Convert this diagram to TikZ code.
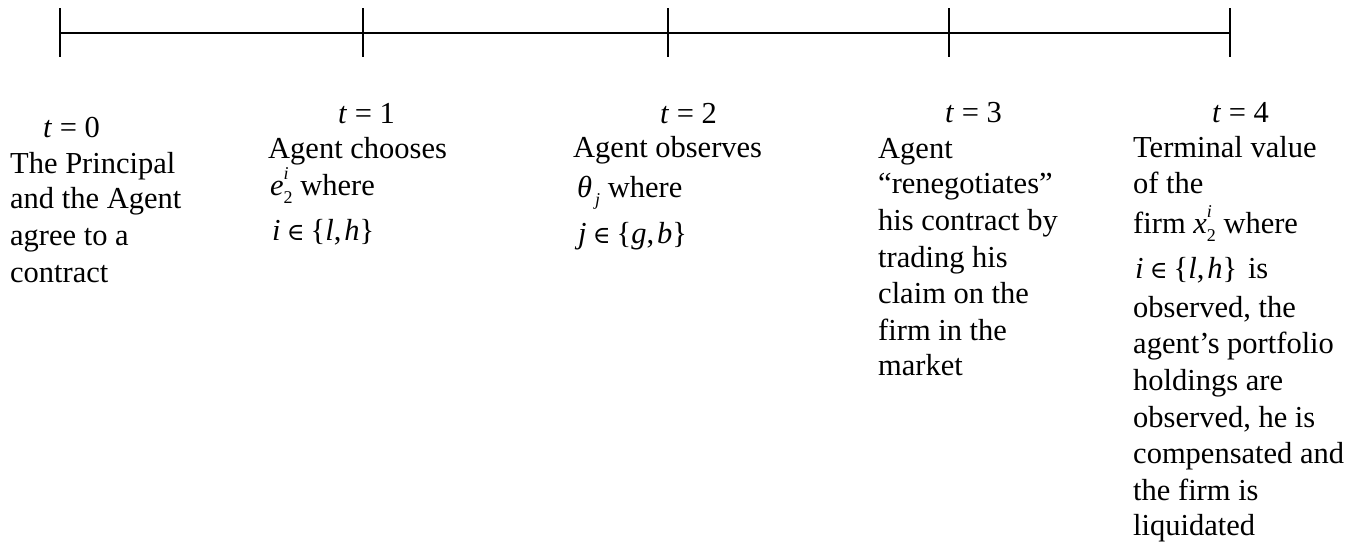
\documentclass[tikz,border=0pt]{standalone}
\usepackage{fontspec}
\setmainfont{Liberation Serif}
\newfontfamily\symfont{DejaVu Serif}
\newcommand{\SupSub}[3]{#1\makebox[0pt][l]{\raisebox{0.5em}{\fontsize{18}{18}\selectfont #2}}\raisebox{-0.28em}{\fontsize{18}{18}\selectfont #3}}
\newcommand{\SubOnly}[2]{#1\raisebox{-0.28em}{\fontsize{18}{18}\selectfont #2}}
\newcommand{\InSet}[3]{\textit{#1}\hspace{0.2em}{\symfont\fontsize{24}{24}\selectfont ∈}\hspace{0.2em}\{\textit{#2},\hspace{0.1em}\textit{#3}\}}
\begin{document}
\begin{tikzpicture}[x=1pt,y=-1pt,
  txt/.style={anchor=base west, inner sep=0pt, font=\fontsize{30.5}{36}\selectfont},
  axis/.style={line width=2pt},
  tickmark/.style={line width=2.6pt}]
\useasboundingbox (0,0) rectangle (1358,542);
% timeline
\coordinate (p0) at (60,33);
\coordinate (p1) at (363,33);
\coordinate (p2) at (668,33);
\coordinate (p3) at (949,33);
\coordinate (p4) at (1230,33);
\draw[axis] (p0) -- (p4);
\foreach \i in {0,...,4}{
  \draw[tickmark] ([yshift=25pt]p\i) -- ([yshift=-24pt]p\i);
}
% t = 0
\node[txt] (t0) at (43,137) {\textit{t} = 0};
\node[txt] (a1) at (10,173) {The Principal};
\node[txt] (a2) at (10,208) {and the Agent};
\node[txt] (a3) at (10,245) {agree to a};
\node[txt] (a4) at (10,282) {contract};
% t = 1
\node[txt] (t1) at (338,123) {\textit{t} = 1};
\node[txt] (b1) at (268,158) {Agent chooses};
\node[txt] (b2) at (270,195) {\SupSub{\textit{e}}{\textit{i}}{2} where};
\node[txt] (b3) at (272,240) {\InSet{i}{l}{h}};
% t = 2
\node[txt] (t2) at (660,123) {\textit{t} = 2};
\node[txt] (c1) at (573,157) {Agent observes};
\node[txt] (c2) at (577,197) {\SubOnly{\textit{θ}}{\,\textit{j}} where};
\node[txt] (c3) at (578,243) {\InSet{j}{g}{b}};
% t = 3
\node[txt] (t3) at (945,122) {\textit{t} = 3};
\node[txt] (d1) at (878,158) {Agent};
\node[txt] (d2) at (878,193) {“renegotiates”};
\node[txt] (d3) at (878,230) {his contract by};
\node[txt] (d4) at (878,267) {trading his};
\node[txt] (d5) at (878,303) {claim on the};
\node[txt] (d6) at (878,340) {firm in the};
\node[txt] (d7) at (878,375) {market};
% t = 4
\node[txt] (t4) at (1212,122) {\textit{t} = 4};
\node[txt] (e1) at (1133,157) {Terminal value};
\node[txt] (e2) at (1133,193) {of the};
\node[txt] (e3) at (1133,233) {firm \SupSub{\textit{x}}{\textit{i}}{2} where};
\node[txt] (e4) at (1135,278) {\InSet{i}{l}{h}\hspace{0.1em} is};
\node[txt] (e5) at (1133,317) {observed, the};
\node[txt] (e6) at (1133,353) {agent’s portfolio};
\node[txt] (e7) at (1133,390) {holdings are};
\node[txt] (e8) at (1133,427) {observed, he is};
\node[txt] (e9) at (1133,463) {compensated and};
\node[txt] (e10) at (1133,500) {the firm is};
\node[txt] (e11) at (1133,535) {liquidated};
\end{tikzpicture}
\end{document}
